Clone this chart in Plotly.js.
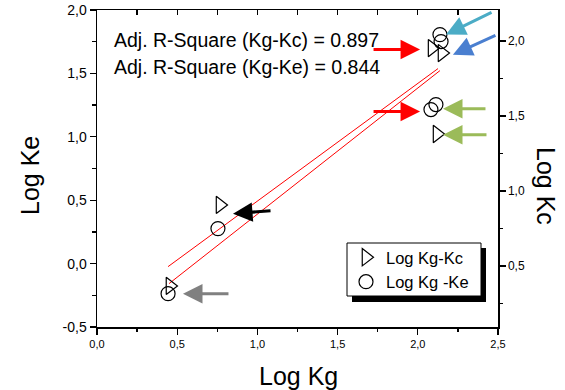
<!DOCTYPE html>
<html><head><meta charset="utf-8">
<script src="https://cdn.plot.ly/plotly-3.0.1.min.js"></script>
<style>body{margin:0;background:#fff}#plot{width:565px;height:390px}</style>
</head><body><div id="plot"></div>
<script>
// Log Kg-Kc (triangles, right axis Log Kc)
const kcX = [0.455, 0.767, 2.089, 2.151, 2.120];
const kcY = [0.367, 0.907, 1.953, 1.920, 1.380];
// Log Kg-Ke (circles, left axis Log Ke)
const keX = [0.443, 0.754, 2.082, 2.113, 2.138, 2.145];
const keY = [-0.237, 0.276, 1.215, 1.254, 1.806, 1.751];
// fitted lines (left axis coords)
const fit1X = [0.443, 2.126], fit1Y = [-0.024, 1.538];
const fit2X = [0.449, 2.138], fit2Y = [-0.158, 1.522];
const rText = ["Adj. R-Square (Kg-Kc) = 0.897", "Adj. R-Square (Kg-Ke) = 0.844"];
// left axis tick labels
const leftTickVals = [-0.5, 0, 0.5, 1.0, 1.5, 2.0];
const leftTickText = ["-0,5", "0,0", "0,5", "1,0", "1,5", "2,0"];
// arrows: head x, head y (left axis), tail offset px, colour
const arrX = [2.014, 2.014, 2.176, 2.219, 2.157, 2.157, 0.848, 0.536];
const arrY = [1.688, 1.199, 1.806, 1.648, 1.222, 1.017, 0.394, -0.237];
const arrAX = [-48, -48, 47, 44, 44, 45, 39, 47];
const arrAY = [0, 0, -23, -20, 0, 0, -3, 0];
const arrC = ["#ff0000","#ff0000","#4bacc6","#4a7fd0","#9bbb59","#9bbb59","#000000","#808080"];

const F = "Liberation Sans, Arial, sans-serif";
const traces = [
  {x: fit1X, y: fit1Y, mode:'lines', line:{color:'#ff0000', width:1}, showlegend:false, hoverinfo:'skip'},
  {x: fit2X, y: fit2Y, mode:'lines', line:{color:'#ff0000', width:1}, showlegend:false, hoverinfo:'skip'},
  {x: kcX, y: kcY, yaxis:'y2', mode:'markers', name:'Log Kg-Kc',
   marker:{symbol:'triangle-right-open', size:15, color:'#000', line:{width:1.2, color:'#000'}}},
  {x: keX, y: keY, mode:'markers', name:'Log Kg -Ke',
   marker:{symbol:'circle-open', size:14, color:'#000', line:{width:1.2, color:'#000'}}},
  {x:[0], y:[0], xaxis:'x2', mode:'markers', marker:{opacity:0}, showlegend:false, hoverinfo:'skip'}
];
const ann = [];
rText.forEach((t,i)=>ann.push({xref:'paper', yref:'paper', x:(112-97)/401, y:(327-(40+27*i))/317,
  xanchor:'left', yanchor:'middle', text:t, showarrow:false, font:{family:F, size:19.5, color:'#000'}}));
for (let i=0;i<arrX.length;i++) ann.push({x:arrX[i], y:arrY[i], xref:'x', yref:'y', text:'', showarrow:true,
  ax:arrAX[i], ay:arrAY[i], axref:'pixel', ayref:'pixel', arrowhead:2, arrowsize:1.3, arrowwidth:3,
  arrowcolor:arrC[i], standoff:0});
ann.push({xref:'paper', yref:'paper', x:(298-97)/401, y:(327-376)/317, text:'Log Kg', showarrow:false,
  xanchor:'center', yanchor:'middle', font:{family:F, size:25, color:'#000'}});
ann.push({xref:'paper', yref:'paper', x:(30-97)/401, y:(327-176)/317, text:'Log Ke', showarrow:false, textangle:-90,
  xanchor:'center', yanchor:'middle', font:{family:F, size:25, color:'#000'}});
ann.push({xref:'paper', yref:'paper', x:(546-97)/401, y:(327-186)/317, text:'Log Kc', showarrow:false, textangle:90,
  xanchor:'center', yanchor:'middle', font:{family:F, size:25, color:'#000'}});

const ax = {showgrid:false, zeroline:false, showline:true, linecolor:'#000', linewidth:1.5,
  ticks:'outside', ticklen:6, tickwidth:1.3, tickcolor:'#000', tickformat:'.1f',
  tickfont:{family:F, size:11, color:'#000'},
  minor:{dtick:0.25, ticks:'outside', ticklen:3.5, tickwidth:1.3, tickcolor:'#000', showgrid:false}};
const px = v => (v-97)/401, py = v => (327-v)/317;
const layout = {
  width:565, height:390, margin:{l:97, r:67, t:10, b:63},
  paper_bgcolor:'#fff', plot_bgcolor:'#fff', separators:',.',
  font:{family:F, color:'#000'},
  xaxis: Object.assign({}, ax, {range:[0,2.5], dtick:0.5, tick0:0}),
  xaxis2: {overlaying:'x', side:'top', anchor:'y', range:[0,2.5], showgrid:false, zeroline:false,
    showline:true, linecolor:'#000', linewidth:1.5, ticks:'inside', ticklen:5, tickwidth:1.3, tickcolor:'#000',
    dtick:0.25, tick0:0, showticklabels:false},
  yaxis: Object.assign({}, ax, {range:[-0.5,2.0], tickmode:'array', tickvals:leftTickVals, ticktext:leftTickText,
    tickfont:{family:F, size:14, color:'#000'}}),
  yaxis2: Object.assign({}, ax, {overlaying:'y', side:'right', anchor:'x', range:[0.093,2.207], dtick:0.5, tick0:0,
    tickfont:{family:F, size:12, color:'#000'}}),
  showlegend:true,
  legend:{x:px(346), y:py(240), xanchor:'left', yanchor:'top', bgcolor:'rgba(0,0,0,0)',
    borderwidth:0, font:{family:F, size:16.5, color:'#000'}, itemwidth:30, tracegroupgap:0},
  shapes:[
    {type:'rect', xref:'paper', yref:'paper', x0:px(352), x1:px(486), y0:py(302), y1:py(248),
      fillcolor:'#000', line:{width:0}, layer:'above'},
    {type:'rect', xref:'paper', yref:'paper', x0:px(347), x1:px(481), y0:py(296), y1:py(243),
      fillcolor:'#fff', line:{width:1, color:'#000'}, layer:'above'}
  ],
  annotations: ann
};
Plotly.newPlot('plot', traces, layout, {staticPlot:true});
</script></body></html>
